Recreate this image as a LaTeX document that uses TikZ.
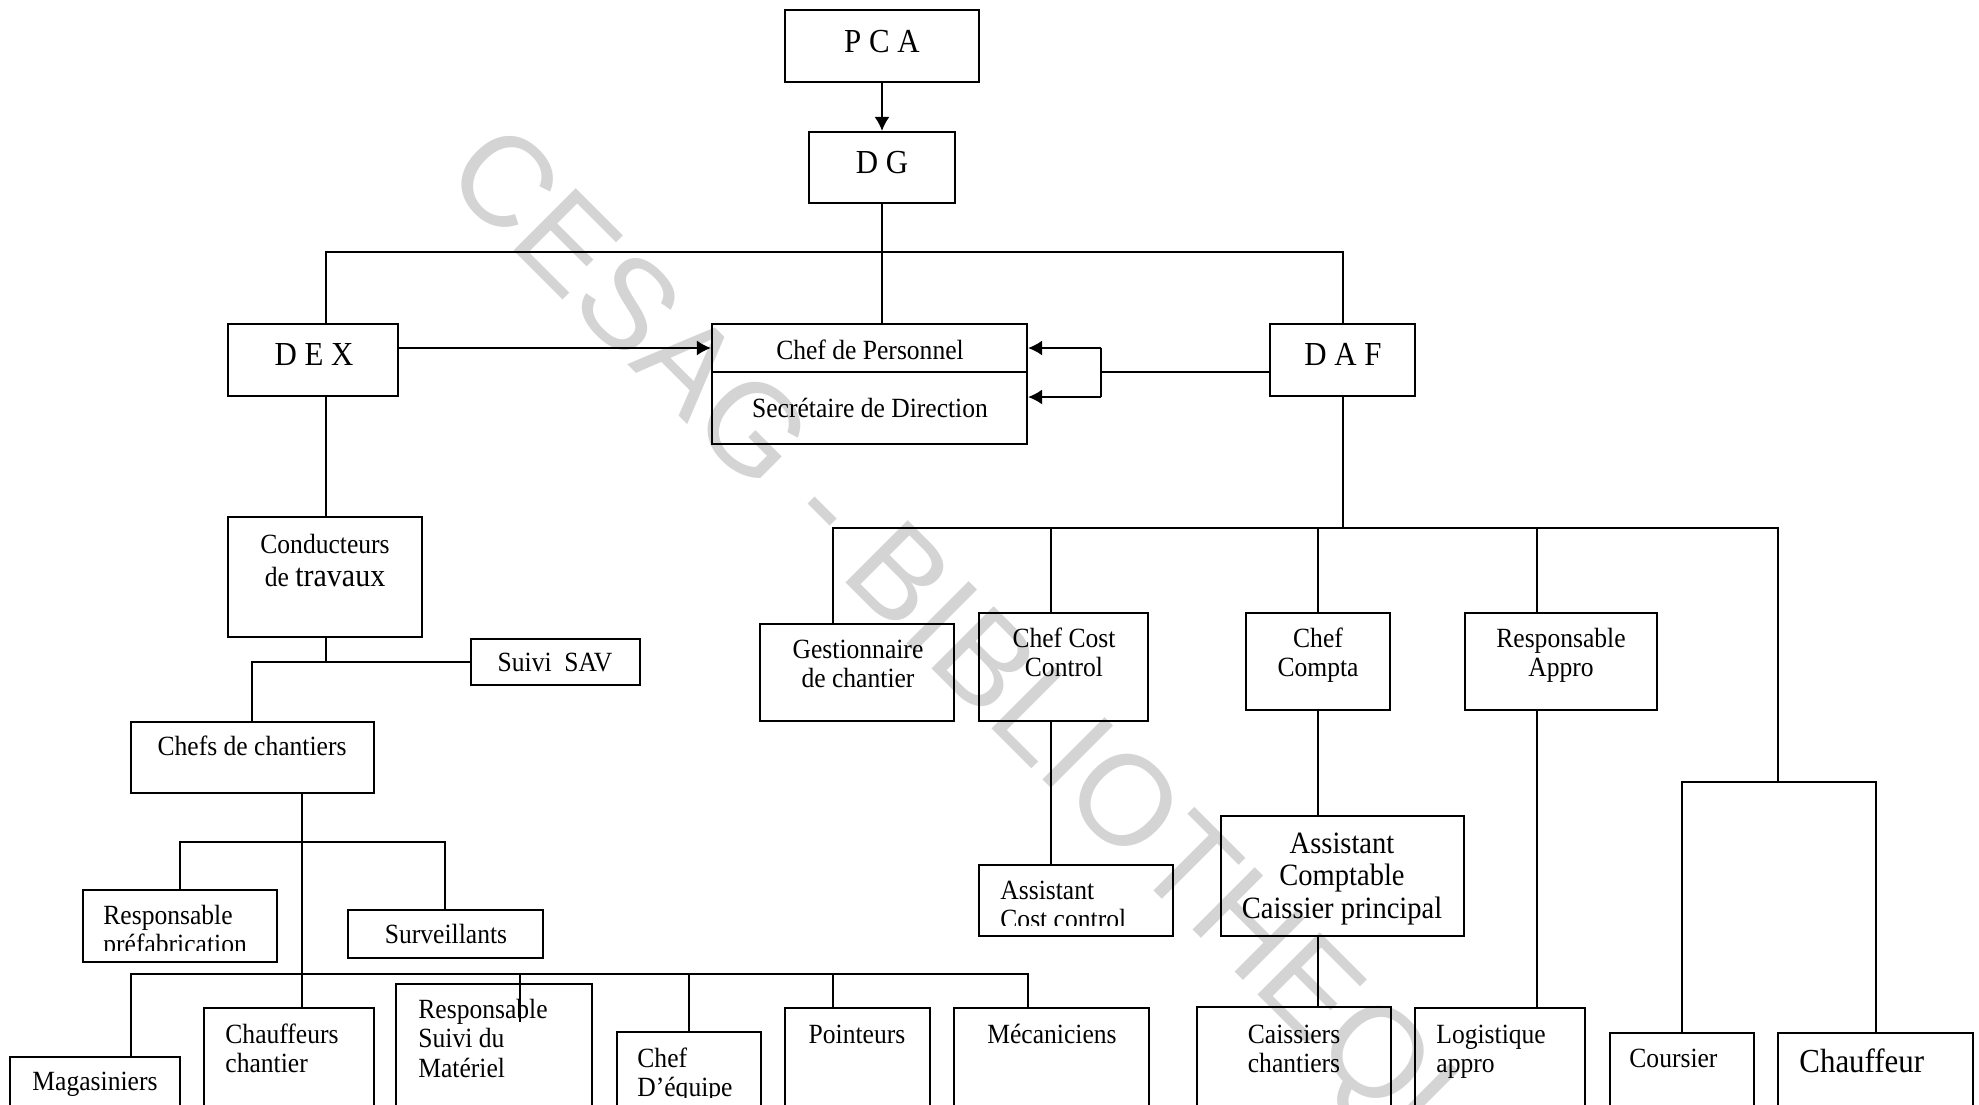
\documentclass[tikz,border=0pt]{standalone}
\usepackage{fontspec}
\setmainfont{Liberation Serif}[FakeStretch=0.92]
\newfontfamily\wmfont{Liberation Sans}
\usetikzlibrary{fit,arrows.meta}
\definecolor{wm}{RGB}{212,212,212}
\newcommand\fReg{\fontsize{13.9}{14.8}\selectfont}
\newcommand\fTit{\fontsize{16.8}{18}\selectfont}
\newcommand\fBig{\fontsize{16.8}{18}\selectfont}
\newcommand\fAC{\fontsize{15.5}{16.3}\selectfont}
\newcommand\fCond{\fontsize{13.9}{16.5}\selectfont}
\newcommand\linesc[1]{\begin{tabular}[t]{@{}c@{}}#1\end{tabular}}
\newcommand\linesl[1]{\begin{tabular}[t]{@{}l@{}}#1\end{tabular}}
\begin{document}
\begin{tikzpicture}[x=0.5pt,y=-0.5pt,
  box/.style={draw, line width=1.1pt, inner sep=0pt, fit={#1}},
  conn/.style={line width=0.9pt},
  arr/.style={conn, -{Latex[length=7pt,width=7.5pt]}},
  txt/.style={anchor=base, inner sep=0pt, font=\fReg},
  txtl/.style={anchor=base west, inner sep=0pt, font=\fReg}]
\useasboundingbox (0,0) rectangle (1979,1104);
\clip (0,0) rectangle (1979,1104);
\fill[white] (0,0) rectangle (1979,1104);
% watermark
\node[anchor=base west, inner sep=0pt, rotate=-45, text=wm,
  font=\wmfont\fontsize{64}{64}\selectfont] (wmark) at (441,178) {CESAG - BIBLIOTHEQUE};
% boxes
\node[box={(785,10) (979,82)}] (pca) {};
\node[box={(809,132) (955,203)}] (dg) {};
\node[box={(228,324) (398,396)}] (dex) {};
\node[box={(1270,324) (1415,396)}] (daf) {};
\node[box={(712,324) (1027,444)}] (cp) {};
\draw[line width=1.1pt] (cp.west |- 0,372) -- (cp.east |- 0,372);
\node[box={(228,517) (422,637)}] (cond) {};
\node[box={(471,639) (640,685)}] (sav) {};
\node[box={(131,722) (374,793)}] (chefs) {};
\node[box={(83,890) (277,962)}] (prefab) {};
\node[box={(348,910) (543,958)}] (surv) {};
\node[box={(10,1057) (180,1130)}] (mag) {};
\node[box={(204,1008) (374,1130)}] (chauf) {};
\node[box={(396,984) (592,1130)}] (rsm) {};
\node[box={(617,1032) (761,1130)}] (ceq) {};
\node[box={(785,1008) (930,1130)}] (point) {};
\node[box={(954,1008) (1149,1130)}] (meca) {};
\node[box={(760,624) (954,721)}] (gest) {};
\node[box={(979,613) (1148,721)}] (ccc) {};
\node[box={(1246,613) (1390,710)}] (ccompta) {};
\node[box={(1465,613) (1657,710)}] (rappro) {};
\node[box={(979,865) (1173,936)}] (acc) {};
\node[box={(1221,816) (1464,936)}] (acompt) {};
\node[box={(1197,1007) (1391,1130)}] (caiss) {};
\node[box={(1415,1008) (1585,1130)}] (logi) {};
\node[box={(1610,1033) (1754,1130)}] (cours) {};
\node[box={(1778,1033) (1973,1130)}] (chfr) {};
% texts
\node[txt, font=\fTit] (t-pca) at (882,52) {P C A};
\node[txt, font=\fTit] (t-dg) at (882,173) {D G};
\node[txt, font=\fTit] (t-dex) at (314,365) {D E X};
\node[txt, font=\fTit] (t-daf) at (1343,365) {D A F};
\node[txt] (t-cp) at (870,359) {Chef de Personnel};
\node[txt] (t-sd) at (870,417) {Secrétaire de Direction};
\node[txt, font=\fCond] (t-cond) at (325,553) {\linesc{Conducteurs\\de {\fontsize{16.3}{16.5}\selectfont travaux}}};
\node[txt] (t-sav) at (555,671) {Suivi\ \ SAV};
\node[txt] (t-chefs) at (252,755) {Chefs de chantiers};
\begin{scope}
\clip (83,890) rectangle (277,950);
\node[txtl] (t-prefab) at (103,924) {\linesl{Responsable\\préfabrication}};
\end{scope}
\node[txt] (t-surv) at (446,943) {Surveillants};
\node[txt] (t-mag) at (95,1090) {Magasiniers};
\node[txtl] (t-chauf) at (225,1043) {\linesl{Chauffeurs\\chantier}};
\node[txtl] (t-rsm) at (418,1018) {\linesl{Responsable\\Suivi du\\Matériel}};
\begin{scope}
\clip (617,1032) rectangle (761,1097);
\node[txtl] (t-ceq) at (637,1067) {\linesl{Chef\\D’équipe}};
\end{scope}
\node[txt] (t-point) at (857,1043) {Pointeurs};
\node[txt] (t-meca) at (1052,1043) {Mécaniciens};
\node[txt] (t-gest) at (858,658) {\linesc{Gestionnaire\\de chantier}};
\node[txt] (t-ccc) at (1064,647) {\linesc{Chef Cost\\Control}};
\node[txt] (t-cco) at (1318,647) {\linesc{Chef\\Compta}};
\node[txt] (t-rap) at (1561,647) {\linesc{Responsable\\Appro}};
\begin{scope}
\clip (979,865) rectangle (1173,925);
\node[txtl] (t-acc) at (1000,899) {\linesl{Assistant\\Cost control}};
\end{scope}
\node[txt, font=\fAC] (t-acompt) at (1342,853) {\linesc{Assistant\\Comptable\\Caissier principal}};
\node[txt] (t-caiss) at (1294,1043) {\linesc{Caissiers\\chantiers}};
\node[txtl] (t-logi) at (1436,1043) {\linesl{Logistique\\appro}};
\node[txtl] (t-cours) at (1629,1067) {Coursier};
\node[txtl, font=\fBig] (t-chfr) at (1799,1072) {Chauffeur};
% connectors top
\draw[arr] (pca) -- (dg);
\draw[conn] (dg.south) -- (dg.south |- cp.north);
\coordinate (bL) at (326,252);
\coordinate (bR) at (1343,252);
\draw[conn] (bL |- dex.north) -- (bL) -- (bR) -- (bR |- daf.north);
\coordinate (da1) at (1101,348);
\coordinate (da2) at (1101,397);
\coordinate (dj) at (1101,372);
\draw[arr] (dex.east |- da1) -- (cp.west |- da1);
\draw[conn] (daf.west |- dj) -- (dj);
\draw[conn] (da1) -- (da2);
\draw[arr] (da1) -- (da1 -| cp.east);
\draw[arr] (da2) -- (da2 -| cp.east);
% DEX branch
\draw[conn] (bL |- dex.south) -- (bL |- cond.north);
\coordinate (c1) at (326,662);
\coordinate (c2) at (252,662);
\draw[conn] (c1 |- cond.south) -- (c1);
\draw[conn] (c2 |- chefs.north) -- (c2) -- (sav.west |- c2);
\coordinate (m0) at (302,842);
\draw[conn] (m0 |- chefs.south) -- (m0 |- chauf.north);
\coordinate (p1) at (180,842);
\coordinate (p2) at (445,842);
\draw[conn] (p1 |- prefab.north) -- (p1) -- (p2) -- (p2 |- surv.north);
\coordinate (q1) at (131,974);
\coordinate (q2) at (1028,974);
\coordinate (q3) at (520,974);
\coordinate (q3e) at (520,1022);
\coordinate (q4) at (689,974);
\coordinate (q5) at (833,974);
\draw[conn] (q1 |- mag.north) -- (q1) -- (q2) -- (q2 |- meca.north);
\draw[conn] (q3) -- (q3e);
\draw[conn] (q4) -- (q4 |- ceq.north);
\draw[conn] (q5) -- (q5 |- point.north);
% DAF branch
\coordinate (r0) at (1343,528);
\coordinate (r1) at (833,528);
\coordinate (r2) at (1051,528);
\coordinate (r3) at (1318,528);
\coordinate (r4) at (1537,528);
\coordinate (r5) at (1778,528);
\coordinate (s0) at (1778,782);
\coordinate (s1) at (1682,782);
\coordinate (s2) at (1876,782);
\draw[conn] (r0 |- daf.south) -- (r0);
\draw[conn] (r1 |- gest.north) -- (r1) -- (r5) -- (s0);
\draw[conn] (r2) -- (r2 |- ccc.north);
\draw[conn] (r3) -- (r3 |- ccompta.north);
\draw[conn] (r4) -- (r4 |- rappro.north);
\draw[conn] (r2 |- ccc.south) -- (r2 |- acc.north);
\draw[conn] (r3 |- ccompta.south) -- (r3 |- acompt.north);
\draw[conn] (r3 |- acompt.south) -- (r3 |- caiss.north);
\draw[conn] (r4 |- rappro.south) -- (r4 |- logi.north);
\draw[conn] (s1 |- cours.north) -- (s1) -- (s2) -- (s2 |- chfr.north);
\end{tikzpicture}
\end{document}
